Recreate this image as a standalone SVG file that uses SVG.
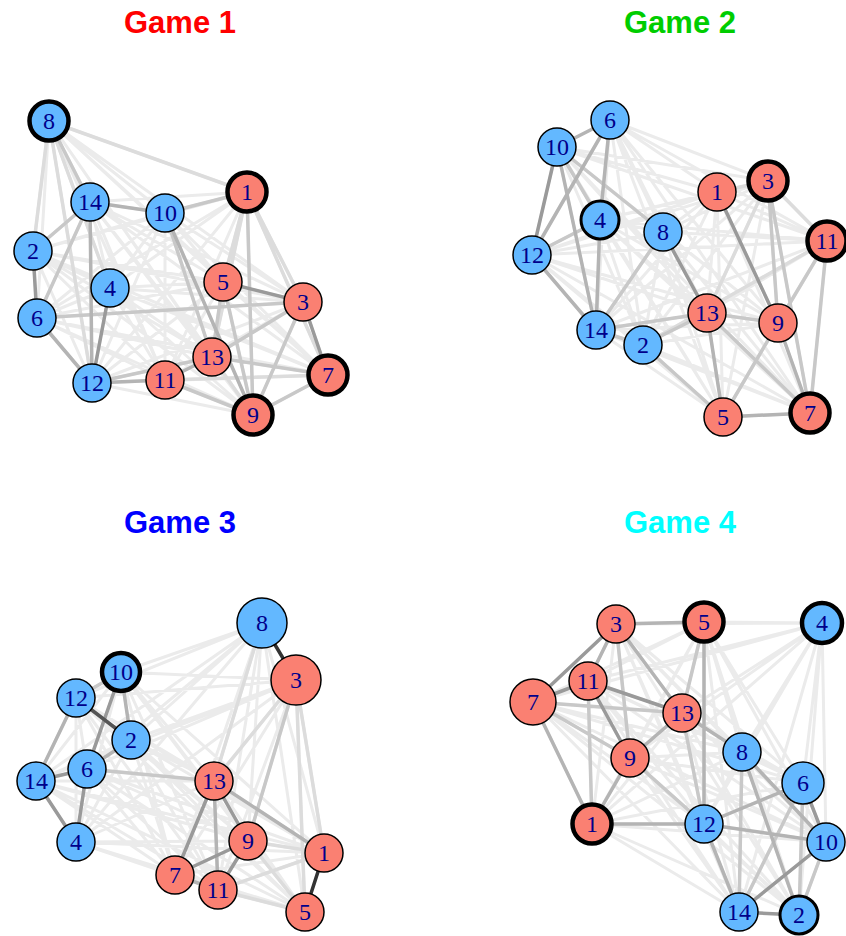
<svg xmlns="http://www.w3.org/2000/svg" width="846" height="936" viewBox="0 0 846 936">
<style>
.t{font-family:"Liberation Sans",Arial,sans-serif;font-weight:bold;font-size:31px;text-anchor:middle}
.f{fill:none;stroke:#ebebeb;stroke-width:3;stroke-linecap:round}
.e{fill:none;stroke-width:3.5;stroke-linecap:round}
.g1{stroke:#dcdcdc}.g2{stroke:#c8c8c8}.g3{stroke:#b4b4b4}.g4{stroke:#9a9a9a}
.nb{fill:#63B8FF;stroke:#000;stroke-width:1.5}
.nr{fill:#FA8072;stroke:#000;stroke-width:1.5}
.tk{stroke-width:4.5}.md{stroke-width:3}
.lb{font-family:"Liberation Serif","Times New Roman",serif;font-size:24px;fill:#00008B;text-anchor:middle}
</style>
<rect width="846" height="936" fill="#fff"/>
<text class="t" x="180" y="33" fill="#FF0000">Game 1</text>
<text class="t" x="680" y="33" fill="#00CD00">Game 2</text>
<text class="t" x="180" y="533" fill="#0000FF">Game 3</text>
<text class="t" x="680" y="533" fill="#00FFFF">Game 4</text>
<g id="connectors">
<path class="f" d="M247 192L33 251M247 192L303 302M247 192L110 288M247 192L223 282M247 192L37 318M247 192L328 375M247 192L49 121M247 192L253 415M247 192L165 213M247 192L165 380M247 192L92 383M247 192L212 357M247 192L90 202M33 251L303 302M33 251L110 288M33 251L223 282M33 251L37 318M33 251L328 375M33 251L49 121M33 251L253 415M33 251L165 213M33 251L165 380M33 251L92 383M33 251L212 357M33 251L90 202M303 302L110 288M303 302L223 282M303 302L37 318M303 302L328 375M303 302L49 121M303 302L253 415M303 302L165 213M303 302L165 380M303 302L92 383M303 302L212 357M303 302L90 202M110 288L223 282M110 288L37 318M110 288L328 375M110 288L49 121M110 288L253 415M110 288L165 213M110 288L165 380M110 288L92 383M110 288L212 357M110 288L90 202M223 282L37 318M223 282L328 375M223 282L49 121M223 282L253 415M223 282L165 213M223 282L165 380M223 282L92 383M223 282L212 357M223 282L90 202M37 318L328 375M37 318L49 121M37 318L253 415M37 318L165 213M37 318L165 380M37 318L92 383M37 318L212 357M37 318L90 202M328 375L49 121M328 375L253 415M328 375L165 213M328 375L165 380M328 375L92 383M328 375L212 357M328 375L90 202M49 121L253 415M49 121L165 213M49 121L165 380M49 121L92 383M49 121L212 357M49 121L90 202M253 415L165 213M253 415L165 380M253 415L92 383M253 415L212 357M253 415L90 202M165 213L165 380M165 213L92 383M165 213L212 357M165 213L90 202M165 380L92 383M165 380L212 357M165 380L90 202M92 383L212 357M92 383L90 202M212 357L90 202"/>
<path class="e g1" d="M247 192L223 282M247 192L303 302M247 192L212 357M212 357L253 415M165 380L328 375M49 121L33 251M49 121L92 383M49 121L110 288M247 192L328 375M49 121L247 192"/>
<path class="e g2" d="M49 121L90 202M90 202L33 251M90 202L37 318M247 192L253 415M223 282L212 357M223 282L253 415M303 302L253 415M212 357L328 375M92 383L212 357M165 213L247 192M303 302L212 357M253 415L328 375M165 380L253 415M37 318L303 302M165 213L212 357"/>
<path class="e g3" d="M90 202L165 213M90 202L92 383M37 318L92 383M92 383L165 380M165 213L253 415M165 380L212 357"/>
<path class="e g4" d="M33 251L37 318M110 288L92 383M223 282L303 302M303 302L328 375"/>

<path class="f" d="M717 192L643 345M717 192L768 181M717 192L600 220M717 192L723 417M717 192L610 120M717 192L810 413M717 192L663 232M717 192L778 323M717 192L557 147M717 192L827 241M717 192L532 255M717 192L707 313M717 192L596 330M643 345L768 181M643 345L600 220M643 345L723 417M643 345L610 120M643 345L810 413M643 345L663 232M643 345L778 323M643 345L557 147M643 345L827 241M643 345L532 255M643 345L707 313M643 345L596 330M768 181L600 220M768 181L723 417M768 181L610 120M768 181L810 413M768 181L663 232M768 181L778 323M768 181L557 147M768 181L827 241M768 181L532 255M768 181L707 313M768 181L596 330M600 220L723 417M600 220L610 120M600 220L810 413M600 220L663 232M600 220L778 323M600 220L557 147M600 220L827 241M600 220L532 255M600 220L707 313M600 220L596 330M723 417L610 120M723 417L810 413M723 417L663 232M723 417L778 323M723 417L557 147M723 417L827 241M723 417L532 255M723 417L707 313M723 417L596 330M610 120L810 413M610 120L663 232M610 120L778 323M610 120L557 147M610 120L827 241M610 120L532 255M610 120L707 313M610 120L596 330M810 413L663 232M810 413L778 323M810 413L557 147M810 413L827 241M810 413L532 255M810 413L707 313M810 413L596 330M663 232L778 323M663 232L557 147M663 232L827 241M663 232L532 255M663 232L707 313M663 232L596 330M778 323L557 147M778 323L827 241M778 323L532 255M778 323L707 313M778 323L596 330M557 147L827 241M557 147L532 255M557 147L707 313M557 147L596 330M827 241L532 255M827 241L707 313M827 241L596 330M532 255L707 313M532 255L596 330M707 313L596 330"/>
<path class="e g1" d="M768 181L827 241M717 192L768 181M768 181L707 313M827 241L643 345"/>
<path class="e g2" d="M557 147L600 220M532 255L600 220M778 323L723 417M707 313L778 323M707 313L810 413M827 241L778 323M768 181L778 323M768 181L810 413M643 345L723 417M596 330L663 232M827 241L810 413M643 345L707 313M596 330L643 345M557 147L663 232M596 330L707 313"/>
<path class="e g3" d="M610 120L532 255M610 120L557 147M610 120L600 220M557 147L596 330M600 220L596 330M532 255L596 330M723 417L810 413M707 313L723 417M778 323L810 413"/>
<path class="e g4" d="M557 147L532 255M663 232L707 313M717 192L778 323"/>

<path class="f" d="M324 853L131 740M324 853L296 680M324 853L76 842M324 853L305 912M324 853L87 769M324 853L175 875M324 853L262 623M324 853L248 841M324 853L121 672M324 853L218 890M324 853L76 698M324 853L214 781M324 853L36 781M131 740L296 680M131 740L76 842M131 740L305 912M131 740L87 769M131 740L175 875M131 740L262 623M131 740L248 841M131 740L121 672M131 740L218 890M131 740L76 698M131 740L214 781M131 740L36 781M296 680L76 842M296 680L305 912M296 680L87 769M296 680L175 875M296 680L262 623M296 680L248 841M296 680L121 672M296 680L218 890M296 680L76 698M296 680L214 781M296 680L36 781M76 842L305 912M76 842L87 769M76 842L175 875M76 842L262 623M76 842L248 841M76 842L121 672M76 842L218 890M76 842L76 698M76 842L214 781M76 842L36 781M305 912L87 769M305 912L175 875M305 912L262 623M305 912L248 841M305 912L121 672M305 912L218 890M305 912L76 698M305 912L214 781M305 912L36 781M87 769L175 875M87 769L262 623M87 769L248 841M87 769L121 672M87 769L218 890M87 769L76 698M87 769L214 781M87 769L36 781M175 875L262 623M175 875L248 841M175 875L121 672M175 875L218 890M175 875L76 698M175 875L214 781M175 875L36 781M262 623L248 841M262 623L121 672M262 623L218 890M262 623L76 698M262 623L214 781M262 623L36 781M248 841L121 672M248 841L218 890M248 841L76 698M248 841L214 781M248 841L36 781M121 672L218 890M121 672L76 698M121 672L214 781M121 672L36 781M218 890L76 698M218 890L214 781M218 890L36 781M76 698L214 781M76 698L36 781M214 781L36 781"/>
<path class="e g1" d="M218 890L305 912M248 841L324 853M218 890L324 853M296 680L214 781M248 841L305 912M296 680L324 853M296 680L305 912M262 623L214 781"/>
<path class="e g2" d="M121 672L76 698M87 769L214 781M296 680L248 841"/>
<path class="e g3" d="M214 781L324 853M175 875L218 890M214 781L218 890M121 672L131 740M131 740L87 769M76 698L36 781"/>
<path class="e g4" d="M36 781L87 769M36 781L76 842M87 769L76 842M121 672L87 769M248 841L175 875M248 841L218 890M214 781L248 841M214 781L175 875"/>
<path class="e" stroke="#555" stroke-width="2" d="M76 698L131 740"/>
<path class="e" stroke="#333" stroke-width="4" d="M262 623L296 680M324 853L305 912"/>

<path class="f" d="M592 824L799 915M592 824L616 624M592 824L822 623M592 824L704 622M592 824L803 783M592 824L533 702M592 824L742 752M592 824L630 758M592 824L826 842M592 824L588 681M592 824L704 824M592 824L682 713M592 824L739 912M799 915L616 624M799 915L822 623M799 915L704 622M799 915L803 783M799 915L533 702M799 915L742 752M799 915L630 758M799 915L826 842M799 915L588 681M799 915L704 824M799 915L682 713M799 915L739 912M616 624L822 623M616 624L704 622M616 624L803 783M616 624L533 702M616 624L742 752M616 624L630 758M616 624L826 842M616 624L588 681M616 624L704 824M616 624L682 713M616 624L739 912M822 623L704 622M822 623L803 783M822 623L533 702M822 623L742 752M822 623L630 758M822 623L826 842M822 623L588 681M822 623L704 824M822 623L682 713M822 623L739 912M704 622L803 783M704 622L533 702M704 622L742 752M704 622L630 758M704 622L826 842M704 622L588 681M704 622L704 824M704 622L682 713M704 622L739 912M803 783L533 702M803 783L742 752M803 783L630 758M803 783L826 842M803 783L588 681M803 783L704 824M803 783L682 713M803 783L739 912M533 702L742 752M533 702L630 758M533 702L826 842M533 702L588 681M533 702L704 824M533 702L682 713M533 702L739 912M742 752L630 758M742 752L826 842M742 752L588 681M742 752L704 824M742 752L682 713M742 752L739 912M630 758L826 842M630 758L588 681M630 758L704 824M630 758L682 713M630 758L739 912M826 842L588 681M826 842L704 824M826 842L682 713M826 842L739 912M588 681L704 824M588 681L682 713M588 681L739 912M704 824L682 713M704 824L739 912M682 713L739 912"/>
<path class="e g2" d="M616 624L630 758M704 622L682 713M742 752L739 912M803 783L739 912M803 783L799 915M826 842L799 915M630 758L704 824M533 702L630 758M533 702L682 713M588 681L592 824M682 713L704 824"/>
<path class="e g3" d="M533 702L592 824M616 624L682 713M682 713L630 758M592 824L704 824M592 824L630 758M704 824L803 783M704 824L826 842M742 752L826 842M704 824L739 912M616 624L704 622M682 713L742 752M704 622L704 824M616 624L588 681M742 752L799 915"/>
<path class="e g4" d="M616 624L533 702M533 702L588 681M588 681L682 713M588 681L630 758M739 912L826 842M739 912L799 915M803 783L826 842"/>
</g>

<g id="game1">
<g id="g1-n8"><circle class="nb tk" cx="49" cy="121" r="19.5"/><text class="lb" x="49" y="129">8</text></g>
<g id="g1-n14"><circle class="nb" cx="90" cy="202" r="19"/><text class="lb" x="90" y="210">14</text></g>
<g id="g1-n10"><circle class="nb" cx="165" cy="213" r="19"/><text class="lb" x="165" y="221">10</text></g>
<g id="g1-n1"><circle class="nr tk" cx="247" cy="192" r="19.5"/><text class="lb" x="247" y="200">1</text></g>
<g id="g1-n2"><circle class="nb" cx="33" cy="251" r="19"/><text class="lb" x="33" y="259">2</text></g>
<g id="g1-n4"><circle class="nb" cx="110" cy="288" r="19"/><text class="lb" x="110" y="296">4</text></g>
<g id="g1-n5"><circle class="nr" cx="223" cy="282" r="19"/><text class="lb" x="223" y="290">5</text></g>
<g id="g1-n3"><circle class="nr" cx="303" cy="302" r="19"/><text class="lb" x="303" y="310">3</text></g>
<g id="g1-n6"><circle class="nb" cx="37" cy="318" r="19"/><text class="lb" x="37" y="326">6</text></g>
<g id="g1-n13"><circle class="nr" cx="212" cy="357" r="19"/><text class="lb" x="212" y="365">13</text></g>
<g id="g1-n7"><circle class="nr tk" cx="328" cy="375" r="19.5"/><text class="lb" x="328" y="383">7</text></g>
<g id="g1-n11"><circle class="nr" cx="165" cy="380" r="19"/><text class="lb" x="165" y="388">11</text></g>
<g id="g1-n12"><circle class="nb" cx="92" cy="383" r="19"/><text class="lb" x="92" y="391">12</text></g>
<g id="g1-n9"><circle class="nr tk" cx="253" cy="415" r="19.5"/><text class="lb" x="253" y="423">9</text></g>
</g>

<g id="game2">
<g id="g2-n6"><circle class="nb" cx="610" cy="120" r="19"/><text class="lb" x="610" y="128">6</text></g>
<g id="g2-n10"><circle class="nb" cx="557" cy="147" r="19"/><text class="lb" x="557" y="155">10</text></g>
<g id="g2-n3"><circle class="nr tk" cx="768" cy="181" r="19.5"/><text class="lb" x="768" y="189">3</text></g>
<g id="g2-n1"><circle class="nr" cx="717" cy="192" r="19"/><text class="lb" x="717" y="200">1</text></g>
<g id="g2-n4"><circle class="nb md" cx="600" cy="220" r="19"/><text class="lb" x="600" y="228">4</text></g>
<g id="g2-n8"><circle class="nb" cx="663" cy="232" r="19"/><text class="lb" x="663" y="240">8</text></g>
<g id="g2-n11"><circle class="nr tk" cx="827" cy="241" r="19.5"/><text class="lb" x="827" y="249">11</text></g>
<g id="g2-n12"><circle class="nb" cx="532" cy="255" r="19"/><text class="lb" x="532" y="263">12</text></g>
<g id="g2-n13"><circle class="nr" cx="707" cy="313" r="19"/><text class="lb" x="707" y="321">13</text></g>
<g id="g2-n9"><circle class="nr" cx="778" cy="323" r="19"/><text class="lb" x="778" y="331">9</text></g>
<g id="g2-n14"><circle class="nb" cx="596" cy="330" r="19"/><text class="lb" x="596" y="338">14</text></g>
<g id="g2-n2"><circle class="nb" cx="643" cy="345" r="19"/><text class="lb" x="643" y="353">2</text></g>
<g id="g2-n7"><circle class="nr tk" cx="810" cy="413" r="19.5"/><text class="lb" x="810" y="421">7</text></g>
<g id="g2-n5"><circle class="nr" cx="723" cy="417" r="19"/><text class="lb" x="723" y="425">5</text></g>
</g>

<g id="game3">
<g id="g3-n8"><circle class="nb" cx="262" cy="623" r="25"/><text class="lb" x="262" y="631">8</text></g>
<g id="g3-n3"><circle class="nr" cx="296" cy="680" r="25"/><text class="lb" x="296" y="688">3</text></g>
<g id="g3-n10"><circle class="nb tk" cx="121" cy="672" r="19"/><text class="lb" x="121" y="680">10</text></g>
<g id="g3-n12"><circle class="nb" cx="76" cy="698" r="19"/><text class="lb" x="76" y="706">12</text></g>
<g id="g3-n2"><circle class="nb" cx="131" cy="740" r="19"/><text class="lb" x="131" y="748">2</text></g>
<g id="g3-n6"><circle class="nb" cx="87" cy="769" r="19"/><text class="lb" x="87" y="777">6</text></g>
<g id="g3-n14"><circle class="nb" cx="36" cy="781" r="19"/><text class="lb" x="36" y="789">14</text></g>
<g id="g3-n13"><circle class="nr" cx="214" cy="781" r="19"/><text class="lb" x="214" y="789">13</text></g>
<g id="g3-n9"><circle class="nr" cx="248" cy="841" r="19"/><text class="lb" x="248" y="849">9</text></g>
<g id="g3-n4"><circle class="nb" cx="76" cy="842" r="19"/><text class="lb" x="76" y="850">4</text></g>
<g id="g3-n1"><circle class="nr" cx="324" cy="853" r="19"/><text class="lb" x="324" y="861">1</text></g>
<g id="g3-n7"><circle class="nr" cx="175" cy="875" r="19"/><text class="lb" x="175" y="883">7</text></g>
<g id="g3-n11"><circle class="nr" cx="218" cy="890" r="19"/><text class="lb" x="218" y="898">11</text></g>
<g id="g3-n5"><circle class="nr" cx="305" cy="912" r="19"/><text class="lb" x="305" y="920">5</text></g>
</g>

<g id="game4">
<g id="g4-n3"><circle class="nr" cx="616" cy="624" r="19"/><text class="lb" x="616" y="632">3</text></g>
<g id="g4-n5"><circle class="nr tk" cx="704" cy="622" r="19.5"/><text class="lb" x="704" y="630">5</text></g>
<g id="g4-n4"><circle class="nb tk" cx="822" cy="623" r="20"/><text class="lb" x="822" y="631">4</text></g>
<g id="g4-n11"><circle class="nr" cx="588" cy="681" r="19"/><text class="lb" x="588" y="689">11</text></g>
<g id="g4-n7"><circle class="nr" cx="533" cy="702" r="23"/><text class="lb" x="533" y="710">7</text></g>
<g id="g4-n13"><circle class="nr" cx="682" cy="713" r="19"/><text class="lb" x="682" y="721">13</text></g>
<g id="g4-n8"><circle class="nb" cx="742" cy="752" r="19"/><text class="lb" x="742" y="760">8</text></g>
<g id="g4-n9"><circle class="nr" cx="630" cy="758" r="19"/><text class="lb" x="630" y="766">9</text></g>
<g id="g4-n6"><circle class="nb" cx="803" cy="783" r="21"/><text class="lb" x="803" y="791">6</text></g>
<g id="g4-n1"><circle class="nr tk" cx="592" cy="824" r="19.5"/><text class="lb" x="592" y="832">1</text></g>
<g id="g4-n12"><circle class="nb" cx="704" cy="824" r="19"/><text class="lb" x="704" y="832">12</text></g>
<g id="g4-n10"><circle class="nb" cx="826" cy="842" r="19"/><text class="lb" x="826" y="850">10</text></g>
<g id="g4-n14"><circle class="nb" cx="739" cy="912" r="19"/><text class="lb" x="739" y="920">14</text></g>
<g id="g4-n2"><circle class="nb md" cx="799" cy="915" r="19"/><text class="lb" x="799" y="923">2</text></g>
</g>
</svg>
